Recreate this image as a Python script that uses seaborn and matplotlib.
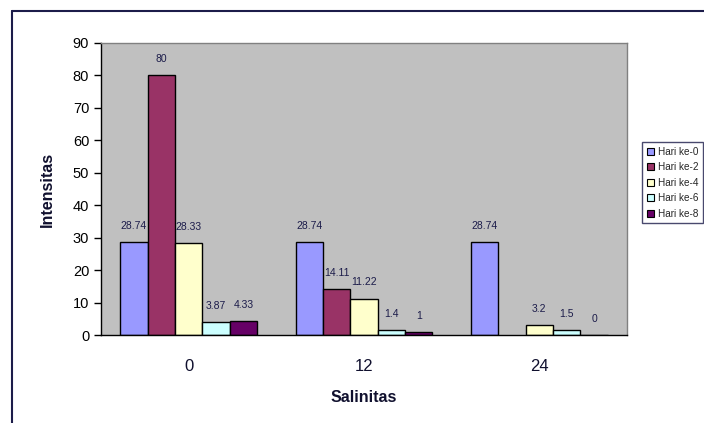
import matplotlib
matplotlib.use("Agg")
import matplotlib.pyplot as plt
from matplotlib.lines import Line2D
import numpy as np
import pandas as pd
import seaborn as sns

salinitas = ["0", "12", "24"]
hari = ["Hari ke-0", "Hari ke-2", "Hari ke-4", "Hari ke-6", "Hari ke-8"]
hari_0 = [28.74, 28.74, 28.74]
hari_2 = [80, 14.11, np.nan]
hari_4 = [28.33, 11.22, 3.2]
hari_6 = [3.87, 1.4, 1.5]
hari_8 = [4.33, 1, 0]
warna = ["#9999FF", "#993366", "#FFFFCC", "#CCFFFF", "#660066"]

rows = []
for nama, nilai in zip(hari, [hari_0, hari_2, hari_4, hari_6, hari_8]):
    for s, v in zip(salinitas, nilai):
        rows.append({"Salinitas": s, "Hari": nama, "Intensitas": v})
df = pd.DataFrame(rows)

sns.set_theme(style="white")
plt.rcParams["font.family"] = ["Liberation Sans", "DejaVu Sans"]

fig = plt.figure(figsize=(7.04, 4.23), dpi=100)
ax = fig.add_axes([101 / 704, 1 - 335 / 423, 526 / 704, 292 / 423])
ax.set_facecolor("#C0C0C0")

sns.barplot(data=df, x="Salinitas", y="Intensitas", hue="Hari",
            order=salinitas, hue_order=hari, palette=warna, saturation=1,
            width=0.78, edgecolor="black", linewidth=1.0,
            errorbar=None, legend=False, ax=ax)

navy = "#1C1C4A"
for cont, nilai in zip(ax.containers, [hari_0, hari_2, hari_4, hari_6, hari_8]):
    for patch, v in zip(cont.patches, nilai):
        if np.isnan(v):
            continue
        x = patch.get_x() + patch.get_width() / 2
        ax.annotate(f"{v:g}", (x, v), xytext=(0, 8), textcoords="offset points",
                    ha="center", va="bottom", fontsize=7.5, color=navy)

ax.set_ylim(0, 90)
ax.set_yticks(range(0, 91, 10))
ax.set_xlim(-0.5, 2.5)
ax.set_xticks([0, 1, 2])
ax.set_xticks([-0.5, 0.5, 1.5, 2.5], minor=True)
ax.tick_params(axis="x", which="major", length=0, pad=17, labelsize=12, colors="#10102E")
ax.tick_params(axis="x", which="minor", length=5, width=1, direction="out", color="black")
ax.tick_params(axis="y", length=5, width=1, direction="out", labelsize=10.5, colors="black", left=True)

for side in ["top", "right"]:
    ax.spines[side].set_color("#808080")
    ax.spines[side].set_linewidth(1.0)
for side in ["left", "bottom"]:
    ax.spines[side].set_color("black")
    ax.spines[side].set_linewidth(1.0)

ax.set_xlabel("Salinitas", fontsize=11.5, fontweight="bold", labelpad=12, color="#10102E")
ax.set_ylabel("Intensitas", fontsize=11.5, fontweight="bold", labelpad=13, color="#10102E")

handles = [plt.Rectangle((0, 0), 1, 1, facecolor=c, edgecolor="black", linewidth=0.8) for c in warna]
leg = fig.legend(handles, hari, loc="upper left",
                 bbox_to_anchor=(642 / 704, 1 - 142 / 423),
                 fontsize=7.2, frameon=True, fancybox=False,
                 handlelength=0.7, handleheight=0.7, handletextpad=0.4,
                 labelspacing=0.56, borderpad=0.45, borderaxespad=0)
leg.get_frame().set_edgecolor(navy)
leg.get_frame().set_linewidth(1.0)

fig.add_artist(Line2D([12 / 704, 12 / 704], [0, 1 - 11 / 423], transform=fig.transFigure,
                      color=navy, linewidth=1.5))
fig.add_artist(Line2D([12 / 704, 1], [1 - 11 / 423, 1 - 11 / 423], transform=fig.transFigure,
                      color=navy, linewidth=1.5))

fig.savefig("out.png", dpi=100)
